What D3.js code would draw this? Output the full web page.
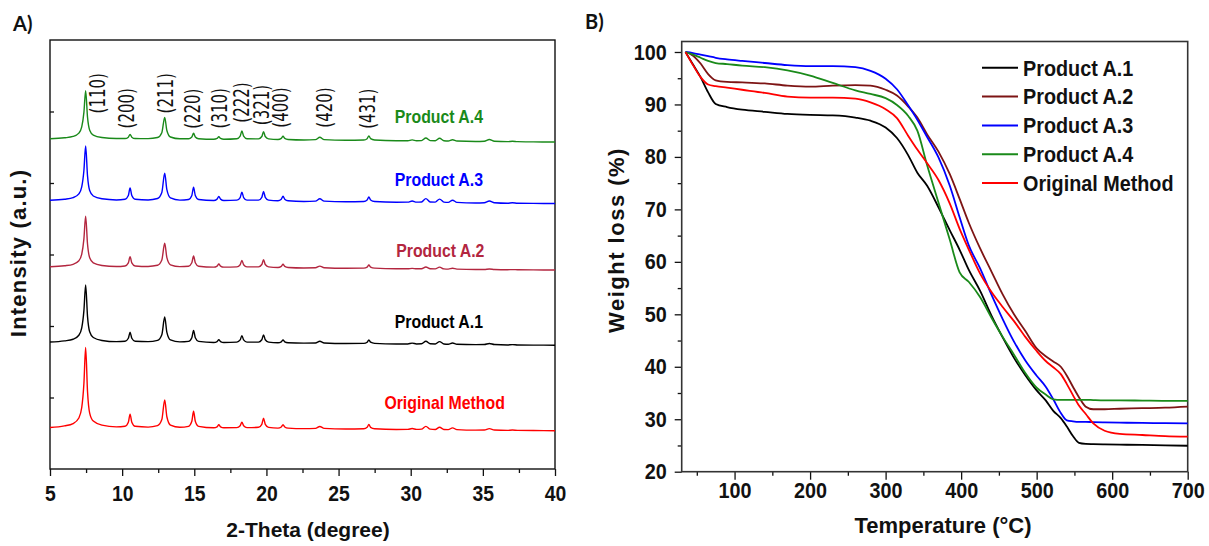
<!DOCTYPE html>
<html>
<head>
<meta charset="utf-8">
<script src="https://cdn.jsdelivr.net/npm/d3@7"></script>
<style>
  html, body { margin: 0; padding: 0; background: #fff; }
  svg { display: block; }
  text { font-family: "Liberation Sans", Arial, sans-serif; }
</style>
</head>
<body>
<svg id="fig" width="1209" height="546"></svg>
<script>
// ---------- A) XRD patterns ----------
const twoTheta = [5.0, 6.0, 6.6, 7.0, 7.2, 7.35, 7.47, 7.6, 7.75, 8.0, 8.6, 9.6,
  10.2, 10.43, 10.55, 10.67, 10.9, 11.8, 12.45, 12.75, 12.95, 13.1, 13.35, 14.0,
  14.6, 14.83, 14.95, 15.07, 15.3, 16.35, 16.58, 16.7, 16.82, 17.05,
  17.95, 18.18, 18.3, 18.42, 18.65, 19.45, 19.68, 19.8, 19.92, 20.15,
  20.8, 21.03, 21.15, 21.27, 21.5, 22.6, 23.4, 23.7, 24.0, 25.5,
  26.75, 26.98, 27.1, 27.22, 27.5, 29.0, 29.8, 30.1, 30.4, 30.75, 31.05, 31.35,
  31.7, 32.0, 32.3, 32.6, 32.9, 33.2, 34.5, 35.1, 35.45, 35.8, 36.7, 37.05, 37.4, 38.5, 40.0];

const xrdOriginal = [45,67,100,178,324,660,1164,548,246,134,77,53, 61,118,232,118,61, 50,
  70,156,429,195,78, 48, 61,131,272,131,61, 40,54,83,54,40, 42,68,118,68,42,
  47,89,173,89,47, 36,52,83,52,36, 29, 32,59,32, 24, 27,47,86,47,27, 17,
  18,30,18, 21,60,21, 17,47,17, 15,39,15, 8, 10,28,10, 4,9,4, 2,0];
const xrdA1 = [45,61,84,140,244,484,844,404,188,108,67,50, 56,98,182,98,56, 50,
  67,146,394,181,75, 47, 54,105,207,105,54, 39,52,77,52,39, 44,74,134,74,44,
  44,77,143,77,44, 35,48,73,48,35, 29, 31,55,31, 24, 26,42,74,42,26, 17,
  18,30,18, 20,56,20, 18,51,18, 14,32,14, 8, 10,25,10, 4,9,4, 2,0];
const xrdA2 = [45,59,80,129,222,435,754,364,172,101,64,49, 57,100,187,100,57, 50,
  66,140,374,173,73, 47, 53,101,197,101,53, 40,55,85,55,40, 44,74,134,74,44,
  44,77,143,77,44, 36,51,81,51,36, 29, 31,55,31, 24, 26,41,71,41,26, 17,
  17,23,17, 18,42,18, 16,40,16, 13,25,13, 8, 8,14,8, 4,6,4, 2,0];
const xrdA3 = [45,60,82,135,234,462,804,386,181,105,66,50, 60,112,217,112,60, 50,
  70,155,424,193,78, 48, 56,113,227,113,56, 42,61,100,61,42, 47,84,159,84,47,
  47,87,168,87,47, 38,59,101,59,38, 29, 33,67,33, 24, 28,49,91,49,28, 17,
  19,36,19, 22,69,22, 20,62,20, 16,46,16, 8, 11,35,11, 4,11,4, 2,0];
const xrdA4 = [45,59,78,125,213,415,719,348,166,98,63,49, 49,68,107,68,49, 48,
  63,131,344,161,70, 45, 46,71,122,71,46, 39,51,75,51,39, 46,82,154,82,46,
  44,77,143,77,44, 36,51,81,51,36, 29, 33,67,33, 24, 28,47,86,47,28, 17,
  18,30,18, 20,56,20, 18,52,18, 14,31,14, 8, 11,35,11, 5,11,5, 2,0];

const xrdNames   = ["Original Method", "Product A.1", "Product A.2", "Product A.3", "Product A.4"];
const xrdSeries  = [xrdOriginal, xrdA1, xrdA2, xrdA3, xrdA4];
const xrdOffsets = [536, 1731, 2783, 3713, 4573];
const xrdColors  = ["#ff0000", "#000000", "#b3263f", "#0000ff", "#1a8a1a"];
const xrdLabelTheta = [32.35, 31.95, 32.05, 31.95, 31.95];
const xrdLabelY     = [846, 1979, 2972, 3958, 4846];

const hklLabels = ["(110)", "(200)", "(211)", "(220)", "(310)", "(222)", "(321)", "(400)", "(420)", "(431)"];
const hklTheta  = [8.35, 10.35, 13.04, 14.89, 16.78, 18.28, 19.67, 20.99, 24.06, 27.0];
const hklY      = [5255, 5045, 5255, 5039, 5045, 5126, 5091, 5056, 5056, 5039];

const xrdTicks = [5, 10, 15, 20, 25, 30, 35, 40];
const xrdMinor = [7.5, 12.5, 17.5, 22.5, 27.5, 32.5, 37.5];
const intensityTicks = [1000, 2000, 3000, 4000, 5000];

// ---------- B) TGA curves ----------
const temps = [35, 45, 55, 65, 75, 90, 110, 140, 170, 200, 230, 260, 280, 300, 315, 330, 342,
  355, 370, 385, 398, 410, 425, 440, 455, 470, 485, 500, 512, 522, 532, 540, 548, 556,
  565, 575, 590, 610, 640, 670, 700];

const tgaA1 = [100, 97.6, 95.2, 92.3, 90.1, 89.5, 89.0, 88.6, 88.2, 88.0, 87.9, 87.5, 86.9, 85.6,
  83.6, 80.3, 77.0, 74.5, 70.4, 66.0, 62.3, 58.5, 54.5, 49.8, 45.6, 41.7, 38.4, 35.5, 33.6, 31.6,
  30.2, 28.6, 26.8, 25.5, 25.3, 25.25, 25.2, 25.15, 25.1, 25.0, 24.95];
const tgaA2 = [100, 99.3, 97.8, 95.8, 94.6, 94.3, 94.2, 94.0, 93.6, 93.4, 93.6, 93.7, 93.6, 92.8,
  91.7, 89.6, 87.5, 84.3, 81.0, 76.7, 72.0, 67.5, 62.6, 58.2, 53.8, 50.0, 46.8, 43.5, 42.0, 41.0,
  40.0, 38.3, 36.2, 34.2, 32.4, 31.9, 31.9, 32.0, 32.1, 32.2, 32.4];
const tgaA3 = [100, 99.8, 99.5, 99.2, 98.9, 98.6, 98.3, 97.9, 97.5, 97.3, 97.3, 97.1, 96.4, 94.9,
  92.9, 89.8, 87.1, 83.8, 79.9, 74.5, 68.5, 63.2, 58.8, 53.8, 49.1, 44.8, 41.2, 38.3, 36.2, 33.8,
  31.2, 29.8, 29.6, 29.5, 29.5, 29.45, 29.4, 29.35, 29.3, 29.25, 29.2];
const tgaA4 = [100, 99.5, 98.9, 98.3, 97.9, 97.7, 97.4, 97.1, 96.5, 95.5, 94.1, 92.7, 92.0, 91.2,
  89.9, 87.8, 85.0, 78.4, 71.3, 64.2, 58.0, 56.2, 53.3, 49.4, 45.7, 42.3, 38.8, 36.0, 34.7, 33.8,
  33.7, 33.7, 33.7, 33.7, 33.7, 33.65, 33.6, 33.6, 33.55, 33.5, 33.5];
const tgaOriginal = [100, 97.5, 95.2, 93.8, 93.5, 93.2, 92.8, 92.2, 91.5, 91.3, 91.3, 91.1, 90.4, 89.1,
  87.4, 84.0, 81.4, 78.8, 75.6, 71.1, 66.3, 62.4, 57.8, 54.3, 51.4, 48.7, 45.7, 43.0, 41.1, 39.9,
  38.6, 36.7, 34.6, 32.6, 31.0, 29.2, 27.8, 27.2, 27.0, 26.8, 26.7];

const tgaNames  = ["Product A.1", "Product A.2", "Product A.3", "Product A.4", "Original Method"];
const tgaSeries = [tgaA1, tgaA2, tgaA3, tgaA4, tgaOriginal];
const tgaColors = ["#000000", "#7d1414", "#0000ff", "#1a8a1a", "#ff0000"];

const tempTicks  = [100, 200, 300, 400, 500, 600, 700];
const tempMinor  = [50, 150, 250, 350, 450, 550, 650];
const weightTicks = [20, 30, 40, 50, 60, 70, 80, 90, 100];
const weightMinor = [25, 35, 45, 55, 65, 75, 85, 95];

// ---------- drawing ----------
const svg = d3.select("#fig");
svg.append("rect").attr("width", 1209).attr("height", 546).attr("fill", "#fff");

function styleAxis(g, sx, size, weight) {
  g.select(".domain").remove();
  g.selectAll(".tick line").attr("stroke", "#111").attr("stroke-width", 1.3);
  g.selectAll(".tick text")
    .attr("fill", "#111")
    .style("font-family", '"Liberation Sans", Arial, sans-serif')
    .style("font-size", size + "px")
    .style("font-weight", weight)
    .attr("transform", `scale(${sx},1)`);
}

// Panel A
const A = { left: 50, right: 555, top: 40, bottom: 469 };
const xA = d3.scaleLinear().domain([5, 40]).range([A.left, A.right]);
const yA = d3.scaleLinear().domain([0, 6000]).range([A.bottom, A.top]);

const gA = svg.append("g");

gA.append("g").attr("transform", `translate(0,${A.bottom})`)
  .call(d3.axisBottom(xA).tickValues(xrdMinor).tickSize(4).tickFormat(""))
  .call(g => styleAxis(g, 1, 10, "normal"));
gA.append("g").attr("transform", `translate(0,${A.bottom})`)
  .call(d3.axisBottom(xA).tickValues(xrdTicks).tickSize(7).tickPadding(9.5).tickFormat(d3.format("d")))
  .call(g => styleAxis(g, 0.88, 22, "bold"));
gA.append("g").attr("transform", `translate(${A.left},0)`)
  .call(d3.axisLeft(yA).tickValues(intensityTicks).tickSize(-4).tickFormat(""))
  .call(g => styleAxis(g, 1, 10, "normal"));

gA.append("rect")
  .attr("x", A.left).attr("y", A.top)
  .attr("width", A.right - A.left).attr("height", A.bottom - A.top)
  .attr("fill", "none").attr("stroke", "#111").attr("stroke-width", 1.4);

xrdSeries.forEach((vals, s) => {
  const line = d3.line()
    .x((d, i) => xA(twoTheta[i]))
    .y(d => yA(d + xrdOffsets[s]))
    .curve(d3.curveMonotoneX);
  gA.append("path")
    .datum(vals)
    .attr("d", line)
    .attr("fill", "none")
    .attr("stroke", xrdColors[s])
    .attr("stroke-width", 1.4)
    .attr("stroke-linejoin", "round");
  gA.append("text")
    .attr("transform", `translate(${xA(xrdLabelTheta[s])},${yA(xrdLabelY[s])}) scale(0.88,1)`)
    .attr("text-anchor", "middle")
    .attr("fill", xrdColors[s])
    .style("font-size", "18px")
    .style("font-weight", "bold")
    .text(xrdNames[s]);
});

hklLabels.forEach((lab, i) => {
  gA.append("text")
    .attr("transform", `translate(${xA(hklTheta[i])},${yA(hklY[i])}) rotate(-90) scale(1,1.36)`)
    .attr("text-anchor", "middle")
    .attr("dy", "0.35em")
    .attr("fill", "#111")
    .style("font-family", '"DejaVu Sans", sans-serif')
    .style("font-size", "15px")
    .text(lab);
});

gA.append("text")
  .attr("x", 308).attr("y", 537)
  .attr("text-anchor", "middle")
  .style("font-size", "21px").style("font-weight", "bold").attr("fill", "#111")
  .text("2-Theta (degree)");
gA.append("text")
  .attr("transform", "translate(26,253) rotate(-90)")
  .attr("text-anchor", "middle")
  .style("font-size", "22px").style("font-weight", "bold").style("letter-spacing", "1.2px")
  .attr("fill", "#111")
  .text("Intensity (a.u.)");
svg.append("text")
  .attr("x", 13).attr("y", 31)
  .style("font-family", "Lato, sans-serif")
  .style("font-size", "20px").style("font-weight", "bold").attr("fill", "#111")
  .text("A)");

// Panel B
const B = { left: 681.7, right: 1187.7, top: 41.5, bottom: 471.7 };
const xB = d3.scaleLinear().domain([30, 700]).range([B.left, B.right]);
const yB = d3.scaleLinear().domain([20, 102]).range([B.bottom, B.top]);

const gB = svg.append("g");

gB.append("g").attr("transform", `translate(0,${B.bottom})`)
  .call(d3.axisBottom(xB).tickValues(tempMinor).tickSize(4).tickFormat(""))
  .call(g => styleAxis(g, 1, 10, "normal"));
gB.append("g").attr("transform", `translate(0,${B.bottom})`)
  .call(d3.axisBottom(xB).tickValues(tempTicks).tickSize(8).tickPadding(3).tickFormat(d3.format("d")))
  .call(g => styleAxis(g, 0.9, 22, "bold"));
gB.append("g").attr("transform", `translate(${B.left},0)`)
  .call(d3.axisLeft(yB).tickValues(weightMinor).tickSize(4).tickFormat(""))
  .call(g => styleAxis(g, 1, 10, "normal"));
gB.append("g").attr("transform", `translate(${B.left},0)`)
  .call(d3.axisLeft(yB).tickValues(weightTicks).tickSize(7).tickPadding(9.7).tickFormat(d3.format("d")))
  .call(g => styleAxis(g, 0.9, 22, "bold"));

gB.append("rect")
  .attr("x", B.left).attr("y", B.top)
  .attr("width", B.right - B.left).attr("height", B.bottom - B.top)
  .attr("fill", "none").attr("stroke", "#333").attr("stroke-width", 1.6);

tgaSeries.forEach((vals, s) => {
  const line = d3.line()
    .x((d, i) => xB(temps[i]))
    .y(d => yB(d))
    .curve(d3.curveMonotoneX);
  gB.append("path")
    .datum(vals)
    .attr("d", line)
    .attr("fill", "none")
    .attr("stroke", tgaColors[s])
    .attr("stroke-width", 1.8)
    .attr("stroke-linejoin", "round");
});

// legend
const legend = gB.append("g");
tgaNames.forEach((name, i) => {
  const y = 67.8 + i * 28.8;
  legend.append("line")
    .attr("x1", 982).attr("x2", 1018).attr("y1", y).attr("y2", y)
    .attr("stroke", tgaColors[i]).attr("stroke-width", 2);
  legend.append("text")
    .attr("transform", `translate(1023,${y}) scale(0.9,1)`)
    .attr("dy", "0.35em")
    .style("font-size", "22px").style("font-weight", "bold").attr("fill", "#111")
    .text(name);
});

gB.append("text")
  .attr("x", 943).attr("y", 532.5)
  .attr("text-anchor", "middle")
  .style("font-size", "22px").style("font-weight", "bold").attr("fill", "#111")
  .text("Temperature (°C)");
gB.append("text")
  .attr("transform", "translate(623.5,240) rotate(-90)")
  .attr("text-anchor", "middle")
  .style("font-size", "22px").style("font-weight", "bold").style("letter-spacing", "1.5px")
  .attr("fill", "#111")
  .text("Weight loss (%)");
svg.append("text")
  .attr("x", 585).attr("y", 29)
  .style("font-family", "Lato, sans-serif")
  .style("font-size", "20px").style("font-weight", "bold").attr("fill", "#111")
  .text("B)");
</script>
</body>
</html>
